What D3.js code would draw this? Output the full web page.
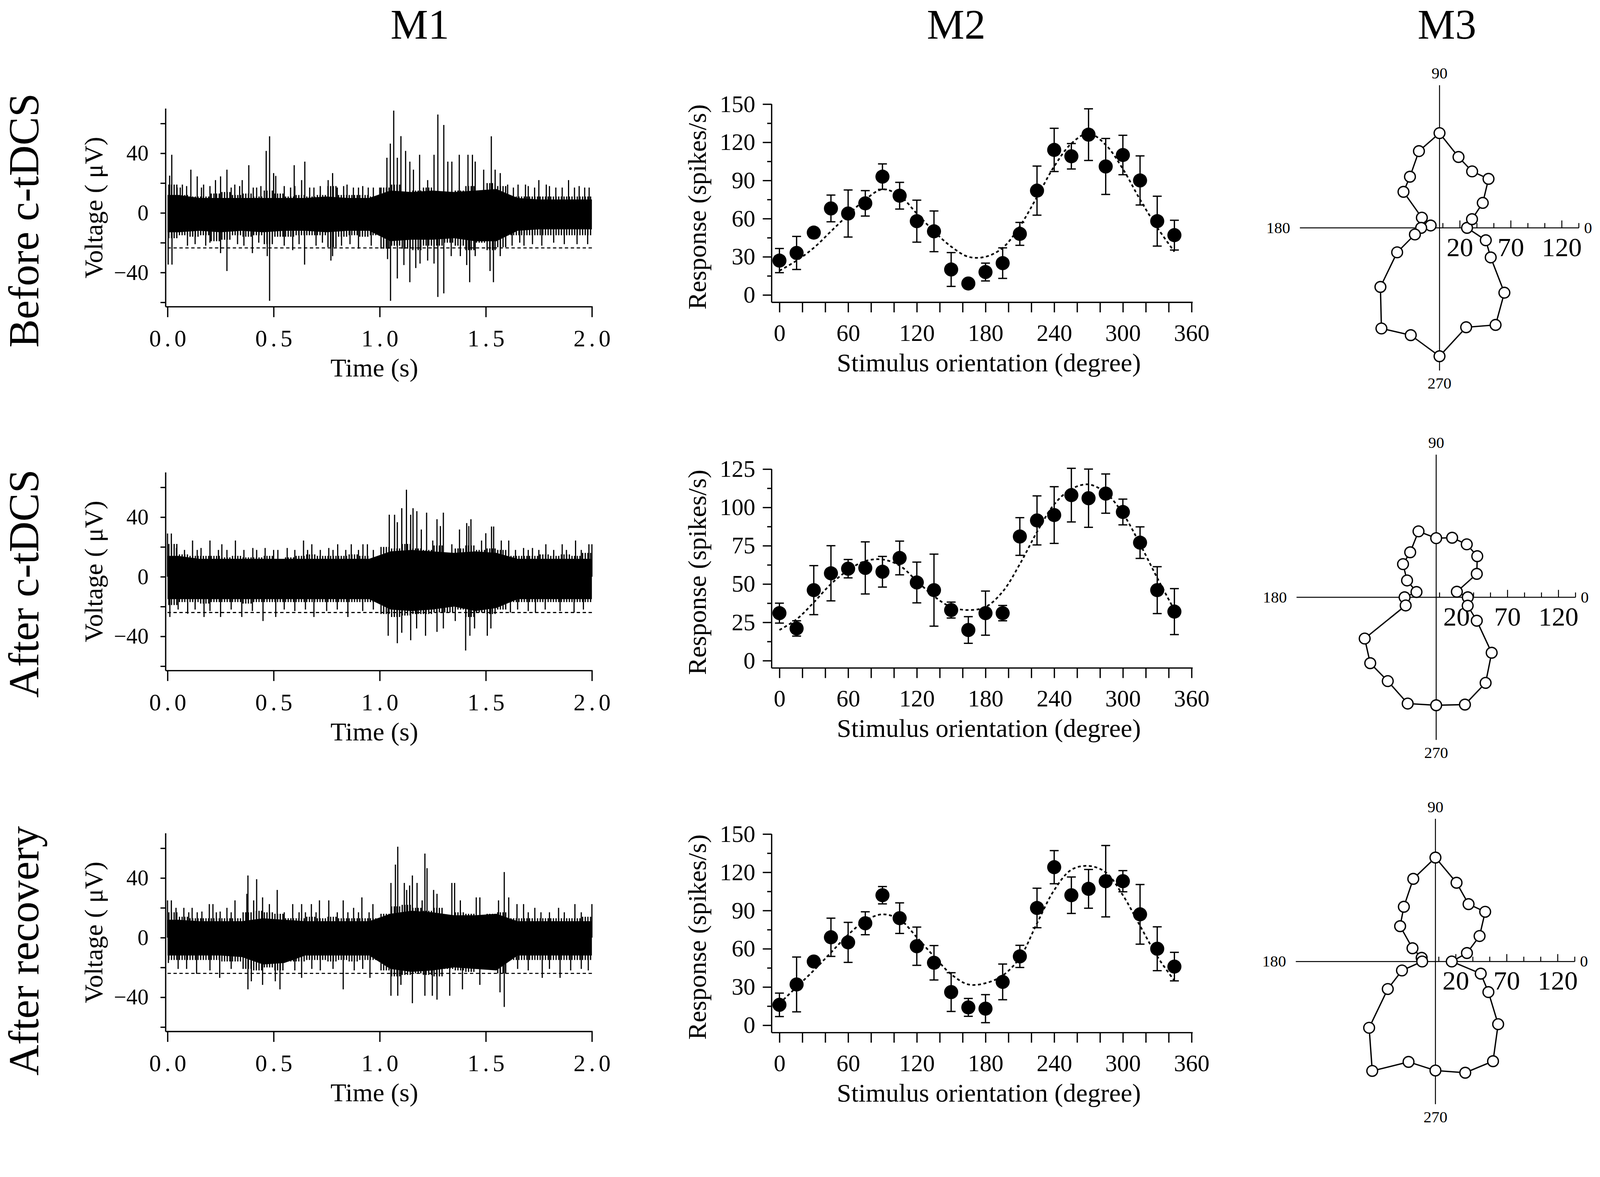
<!DOCTYPE html>
<html>
<head>
<meta charset="utf-8">
<script src="https://cdn.jsdelivr.net/npm/d3@7"></script>
<style>
  html, body { margin: 0; padding: 0; background: #fff; overflow: hidden; }
  svg { display: block; width: 100vw; height: 100vh; }
</style>
</head>
<body>
<div id="fig"></div>
<script>
// ---- titles ----
var columnTitles = ["M1", "M2", "M3"];
var rowTitles = ["Before c-tDCS", "After c-tDCS", "After recovery"];

// ---- M1: raw traces ----
// solid core of the trace, per 0.1 s bin
var coreHiBefore = [12, 10, 10, 10, 10, 10, 10, 11, 10, 10, 15, 14, 15, 14, 15, 16, 10, 9, 9, 9];
var coreLoBefore = [-13, -12, -13, -12, -13, -12, -12, -13, -12, -12, -19, -18, -18, -17, -19, -19, -12, -11, -11, -11];
var coreHiAfter = [14, 12, 12, 12, 12, 12, 12, 12, 12, 12, 17, 18, 17, 16, 17, 16, 12, 12, 12, 12];
var coreLoAfter = [-15, -15, -15, -15, -15, -15, -15, -15, -15, -15, -22, -23, -22, -20, -23, -21, -15, -15, -15, -15];
var coreHiRecovery = [12, 11, 11, 11, 13, 12, 11, 11, 11, 11, 16, 18, 17, 15, 15, 16, 11, 11, 11, 11];
var coreLoRecovery = [-12, -12, -12, -13, -18, -17, -12, -12, -12, -12, -21, -23, -22, -20, -21, -22, -12, -12, -12, -12];
// reach of the thin fringe around the core, per 0.05 s bin
var bandHiBefore = [19, 12, 11, 11, 13, 14, 12, 13, 11, 15, 13, 11, 12, 11, 12, 18, 12, 12, 12, 11, 17, 19, 14, 15, 17, 14, 14, 15, 18, 14, 20, 18, 11, 11, 11, 11, 11, 11, 11, 11];
var bandLoBefore = [-17, -15, -16, -15, -19, -18, -15, -16, -15, -21, -16, -16, -15, -15, -15, -23, -16, -15, -16, -15, -24, -22, -24, -25, -22, -22, -20, -22, -25, -20, -25, -23, -15, -15, -15, -15, -15, -15, -15, -15];
var bandHiAfter = [22, 15, 14, 14, 14, 13, 14, 13, 13, 14, 12, 13, 14, 15, 14, 14, 14, 15, 14, 12, 20, 19, 22, 19, 18, 21, 16, 19, 21, 18, 19, 18, 14, 14, 14, 15, 14, 15, 14, 16];
var bandLoAfter = [-19, -17, -17, -18, -17, -17, -17, -18, -17, -17, -17, -17, -17, -17, -17, -17, -17, -17, -17, -17, -25, -27, -26, -25, -25, -24, -24, -22, -27, -24, -25, -22, -17, -17, -17, -17, -17, -17, -17, -17];
var bandHiRecovery = [17, 14, 13, 13, 13, 13, 13, 17, 18, 17, 16, 13, 13, 14, 13, 14, 13, 13, 13, 13, 16, 21, 22, 20, 18, 20, 15, 17, 16, 15, 16, 17, 13, 13, 13, 13, 13, 13, 13, 14];
var bandLoRecovery = [-15, -15, -15, -15, -15, -16, -16, -21, -22, -20, -22, -16, -16, -15, -15, -16, -15, -16, -15, -15, -22, -26, -25, -24, -25, -26, -21, -22, -23, -21, -21, -24, -15, -15, -15, -15, -15, -15, -15, -15];

// [time (s), peak voltage (uV)]
var spikesBefore = [
  [0.01,25],[0.02,39],[0.045,17],[0.07,19],[0.11,29],[0.14,24.5],[0.17,19],[0.226,22],[0.25,24.5],[0.28,29],
  [0.317,19],[0.352,22],[0.383,32],[0.404,17],[0.465,41.6],[0.481,51.4],[0.5,26.7],[0.51,24.8],[0.597,32],[0.632,22],
  [0.647,34.4],[0.67,17],[0.757,22],[0.778,26.7],[0.846,19],[0.876,17],[0.946,17],[1.0,17],[1.034,37],[1.05,46.5],
  [1.066,68.6],[1.083,37],[1.1,51.5],[1.122,41.6],[1.142,34.4],[1.159,29],[1.188,39],[1.226,22],[1.256,39],[1.274,66],
  [1.302,59],[1.321,34.4],[1.34,34.4],[1.375,39],[1.416,39],[1.437,39],[1.45,34.4],[1.49,29],[1.526,51.4],[1.544,29],
  [1.568,26.7],[1.603,19],[1.652,19],[1.687,19],[1.75,22],[1.785,19],[1.89,22],[1.918,17],[1.966,17],[1.987,17],
  [0.06,17],[0.09,18],[0.16,17],[0.2,18],[0.3,17],[0.34,18],[0.42,17],[0.44,18],[0.55,18],[0.58,17],[0.6,18],[0.69,17],
  [0.72,18],[0.8,17],[0.83,18],[0.9,17],[0.92,18],[0.97,17],[1.63,17],[1.7,18],[1.73,17],[1.8,18],[1.83,17],[1.86,17],[1.94,18],
  [0.003,-34.7],[0.021,-34.7],[0.094,-22],[0.25,-27],[0.28,-39],[0.4,-27],[0.47,-29],[0.481,-59],[0.59,-25],[0.646,-34.7],
  [0.77,-32],[0.778,-29],[0.9,-24],[1.037,-31],[1.051,-59],[1.083,-44],[1.114,-35],[1.142,-46.5],[1.17,-37],[1.19,-34],
  [1.226,-32],[1.256,-34],[1.274,-56.4],[1.302,-54],[1.337,-29],[1.38,-29],[1.41,-35],[1.424,-46.5],[1.45,-29],[1.52,-39],
  [1.536,-46.5],[1.568,-29],[1.624,-22],[1.68,-22],[1.764,-22],[1.98,-21],
  [0.13,-21],[0.18,-22],[0.2,-20],[0.33,-21],[0.36,-22],[0.43,-20],[0.55,-22],[0.62,-21],[0.7,-22],[0.73,-20],[0.82,-22],
  [0.86,-21],[0.96,-22],[1.66,-20],[1.72,-21],[1.82,-20],[1.87,-21],[1.93,-21]
];
var spikesAfter = [
  [0,29],[0.018,29],[0.042,19.3],[0.118,24.3],[0.158,19.3],[0.2,24.3],[0.256,21.8],[0.32,24.3],[0.402,19.3],[0.46,19.3],
  [0.564,19.3],[0.641,24.3],[0.68,21.8],[0.76,19.3],[0.802,21.8],[0.866,21.8],[0.921,21.8],[0.942,21.8],[1.045,41.6],[1.07,41.6],
  [1.083,36.6],[1.104,46],[1.126,58.4],[1.146,41.6],[1.157,46],[1.175,44],[1.196,31.7],[1.221,43],[1.25,24.3],[1.27,38.6],
  [1.286,34],[1.3,43],[1.34,21.8],[1.376,31.7],[1.41,36],[1.42,34],[1.43,38.6],[1.48,24.3],[1.5,29.2],[1.527,33.7],
  [1.537,33.7],[1.573,24.3],[1.608,24.3],[1.678,19.3],[1.72,19.3],[1.783,21.8],[1.86,21.8],[1.923,24.3],[1.986,21.8],[2.0,21.8],
  [0.08,18],[0.14,18],[0.24,18],[0.28,18],[0.36,18],[0.42,18],[0.5,18],[0.52,18],[0.6,18],[0.66,18],[0.72,18],[0.78,18],
  [0.84,18],[0.9,18],[0.97,18],[1.64,18],[1.7,18],[1.75,18],[1.82,18],[1.88,18],[1.95,18],
  [0.011,-27],[0.095,-24.8],[0.172,-27],[0.25,-27],[0.35,-27],[0.45,-29.7],[0.51,-27],[0.69,-27],[0.85,-27],[1.04,-39.6],
  [1.083,-44.6],[1.104,-37.6],[1.146,-42.6],[1.174,-34.7],[1.216,-39.6],[1.27,-37],[1.3,-34.7],[1.356,-29.7],[1.405,-49.5],[1.425,-39.6],
  [1.447,-34.7],[1.507,-39.6],[1.524,-34.7],[1.616,-24],[1.734,-24],[1.916,-24],
  [0.05,-22],[0.13,-22],[0.2,-23],[0.3,-22],[0.4,-23],[0.55,-22],[0.6,-23],[0.65,-22],[0.75,-23],[0.8,-22],[0.92,-23],
  [0.97,-22],[1.65,-22],[1.7,-23],[1.78,-22],[1.85,-23],[1.96,-22]
];
var spikesRecovery = [
  [0,25],[0.018,25],[0.04,20],[0.077,20],[0.116,20],[0.162,17.5],[0.197,22.5],[0.214,22.5],[0.248,17.5],[0.28,20],
  [0.318,25],[0.374,29.4],[0.379,41.7],[0.406,25],[0.42,39.2],[0.448,27],[0.48,22.5],[0.517,32],[0.59,22.5],[0.632,22.5],
  [0.678,22.5],[0.716,25],[0.76,25],[0.828,25],[0.877,20],[0.916,27],[0.968,22.5],[1.053,36.7],[1.074,49],[1.085,61],
  [1.116,36.7],[1.127,32],[1.141,35],[1.154,41.7],[1.176,36.7],[1.2,25],[1.213,56.4],[1.223,46.6],[1.254,32],[1.27,29.4],
  [1.34,36.7],[1.353,36.7],[1.38,25],[1.455,27],[1.472,27],[1.56,25],[1.587,44],[1.608,27],[1.647,22.5],[1.678,22.5],
  [1.731,20],[1.843,20],[1.92,22.5],[2.0,22.5],
  [0.1,17],[0.14,17],[0.23,17],[0.3,17],[0.55,17],[0.62,17],[0.65,17],[0.7,17],[0.8,17],[0.85,17],[0.9,17],[0.95,17],
  [1.7,17],[1.76,17],[1.8,17],[1.87,17],[1.95,17],
  [0.004,-17],[0.137,-24.3],[0.246,-27],[0.379,-34.7],[0.395,-29.3],[0.448,-31.7],[0.508,-29.3],[0.53,-34.7],[0.632,-27],[0.828,-34.7],
  [0.954,-27],[1.053,-39],[1.085,-39],[1.1,-31.7],[1.154,-44],[1.213,-39],[1.248,-39],[1.27,-41.6],[1.33,-39],[1.39,-34.7],
  [1.472,-31.7],[1.567,-36.7],[1.587,-46.5],[1.766,-27],[1.85,-27],[1.983,-22],
  [0.05,-21],[0.09,-21],[0.2,-22],[0.3,-21],[0.6,-22],[0.68,-21],[0.72,-22],[0.78,-21],[0.88,-22],[0.92,-21],[1.65,-21],
  [1.7,-22],[1.8,-21],[1.9,-22],[1.95,-21]
];
var thresholds = [-23.5, -24, -24];
var timeTicks = [0, 0.5, 1, 1.5, 2];
var voltTicks = [-60, -40, -20, 0, 20, 40, 60];

// ---- M2: orientation tuning (mean, error, fitted curve) ----
var orientations = [0, 15, 30, 45, 60, 75, 90, 105, 120, 135, 150, 165, 180, 195, 210, 225, 240, 255, 270, 285, 300, 315, 330, 345];
var respBefore = [27, 33, 49, 68, 64, 72, 93, 78, 58, 50, 20, 9, 18, 25, 48, 82, 114, 109, 126, 101, 110, 90, 58, 47];
var errBefore = [9.5, 13, 4, 10.5, 18.5, 10, 10, 10.5, 16.5, 16, 13.3, 2, 7, 12, 9, 19.3, 17, 10, 20.3, 22, 15.5, 19.3, 19.6, 11.7];
var fitBefore = [19, 27, 37, 50, 63, 75, 83, 78, 64, 50, 38, 30, 30, 37, 54, 77, 101, 119, 127, 118, 99, 75, 53, 34];
var respAfter = [31, 21, 46, 57, 60, 60.5, 58, 67, 51, 46, 33, 20, 31, 31, 81, 91.5, 95, 108, 106, 109, 97, 77, 46, 32];
var errAfter = [6.5, 5, 16, 18, 6, 17, 10, 11, 13.3, 23.5, 5.2, 8.7, 14.4, 5, 12.3, 16, 18.5, 17.5, 19, 12.8, 8.4, 10.3, 15.3, 15];
var fitAfter = [20, 27, 38, 50, 59, 65, 66, 62, 52, 42, 35, 33, 35, 45, 63, 84, 102, 112, 115, 109.5, 96, 76, 54, 33];
var respRecovery = [16, 32, 50, 69, 65, 80, 102, 84, 62, 49, 26, 14, 13, 34, 54, 92, 124, 102, 107, 113, 113, 87, 60, 46];
var errRecovery = [9.2, 21.5, 3, 15, 15.7, 9, 6.8, 12, 15, 13.5, 15.2, 7, 11, 14, 8.7, 15.5, 13, 14.3, 15.2, 28, 8.3, 23.4, 17.2, 11.2];
var fitRecovery = [17, 30, 43, 57, 71, 82, 87, 83, 69, 54, 40, 32, 33, 39, 53, 80, 106, 122, 125, 120, 102, 78, 54, 35];
var respMax = [150, 125, 150];
var respStep = [30, 25, 30];

// ---- M3: polar axis ticks ----
var polarTicks = [3.3, 20, 36.7, 53.3, 70, 86.7, 103.3, 120, 136.7];
var polarLabels = [20, 70, 120];
var angleLabels = ["0", "90", "180", "270"];

// ---- layout ----
var W = 4317, H = 3014;
var FONT = '"Liberation Serif", "Times New Roman", serif';
var titleX = [1133, 2580, 3904];
var rowLabelY = [595, 1575, 2566];
var m1AxisY = [828, 1810, 2784];
var m2AxisY = [816, 1803, 2787];
var m2ZeroY = [796, 1783, 2767];
var m2TopY = [281, 1266, 2251];
var polarCx = [3884, 3875, 3873];
var polarCy = [615, 1612, 2595];

var svg = d3.select("#fig").append("svg")
  .attr("viewBox", "0 0 " + W + " " + H)
  .attr("preserveAspectRatio", "xMinYMin meet")
  .style("font-family", FONT);
svg.append("rect").attr("width", W).attr("height", H).attr("fill", "#fff");

svg.selectAll("text.coltitle").data(columnTitles).enter().append("text")
  .attr("class", "coltitle")
  .attr("x", (d, i) => titleX[i]).attr("y", 104)
  .attr("text-anchor", "middle").attr("font-size", 114)
  .text(d => d);

svg.selectAll("text.rowtitle").data(rowTitles).enter().append("text")
  .attr("class", "rowtitle")
  .attr("transform", (d, i) => "translate(103," + rowLabelY[i] + ") rotate(-90)")
  .attr("text-anchor", "middle").attr("font-size", 115)
  .text(d => d);

function fixAxis(g, size) {
  g.attr("font-family", FONT).attr("font-size", size);
  g.select(".domain").remove();
  g.selectAll(".tick line").attr("stroke", "#000").attr("stroke-width", 3.5);
}

// ---------- M1 ----------
var traces = [
  { coreHi: coreHiBefore, coreLo: coreLoBefore, hi: bandHiBefore, lo: bandLoBefore, spikes: spikesBefore },
  { coreHi: coreHiAfter, coreLo: coreLoAfter, hi: bandHiAfter, lo: bandLoAfter, spikes: spikesAfter },
  { coreHi: coreHiRecovery, coreLo: coreLoRecovery, hi: bandHiRecovery, lo: bandLoRecovery, spikes: spikesRecovery }
];

traces.forEach(function(tr, row) {
  var base = m1AxisY[row];
  var x = d3.scaleLinear().domain([0, 2]).range([452, 1597]);
  var y = d3.scaleLinear().domain([-63, 70]).range([base, base - 535]);
  var g = svg.append("g");

  // fringe: thin strokes in each 0.05 s bin, reaching the bin's read-off extent
  var binW = 2 / tr.hi.length;
  var fringe = [];
  tr.hi.forEach(function(h, i) {
    [0.125, 0.375, 0.625, 0.875].forEach(function(f) {
      fringe.push({ t: (i + f) * binW, hi: h, lo: tr.lo[i] });
    });
  });
  g.selectAll("line.fr").data(fringe).enter().append("line").attr("class", "fr")
    .attr("x1", d => x(d.t)).attr("x2", d => x(d.t))
    .attr("y1", d => y(d.lo)).attr("y2", d => y(d.hi))
    .attr("stroke", "#000").attr("stroke-width", 3.4);

  // solid core, one vertex per 0.1 s bin centre
  var cw = 2 / tr.coreHi.length;
  var core = tr.coreHi.map((h, i) => ({ t: (i + 0.5) * cw, hi: h, lo: tr.coreLo[i] }));
  core.unshift({ t: 0, hi: tr.coreHi[0], lo: tr.coreLo[0] });
  core.push({ t: 2, hi: tr.coreHi[tr.coreHi.length - 1], lo: tr.coreLo[tr.coreLo.length - 1] });
  var area = d3.area().x(d => x(d.t)).y0(d => y(d.lo)).y1(d => y(d.hi));
  g.append("path").datum(core).attr("d", area).attr("fill", "#000");

  g.selectAll("line.spike").data(tr.spikes).enter().append("line")
    .attr("class", "spike")
    .attr("x1", d => x(d[0])).attr("x2", d => x(d[0]))
    .attr("y1", y(0)).attr("y2", d => y(d[1]))
    .attr("stroke", "#000").attr("stroke-width", 3.2);

  g.append("line")
    .attr("x1", x(0)).attr("x2", x(2))
    .attr("y1", y(thresholds[row])).attr("y2", y(thresholds[row]))
    .attr("stroke", "#000").attr("stroke-width", 3).attr("stroke-dasharray", "9,7");

  // axes
  g.append("line").attr("x1", 447).attr("x2", 447).attr("y1", y(70)).attr("y2", base)
    .attr("stroke", "#000").attr("stroke-width", 3.5);
  g.append("line").attr("x1", 447).attr("x2", 1599).attr("y1", base).attr("y2", base)
    .attr("stroke", "#000").attr("stroke-width", 3.5);

  var xa = g.append("g").attr("transform", "translate(0," + base + ")")
    .call(d3.axisBottom(x).tickValues(timeTicks).tickSize(28).tickFormat(d3.format(".1f")));
  fixAxis(xa, 64);
  xa.selectAll(".tick text").attr("y", 107).attr("dy", 0).attr("dx", 5).attr("letter-spacing", 10);

  var ya = g.append("g").attr("transform", "translate(447,0)")
    .call(d3.axisLeft(y).tickValues(voltTicks).tickSize(14)
      .tickFormat(d => d % 40 === 0 ? d3.format("")(d) : ""));
  fixAxis(ya, 60);
  ya.selectAll(".tick text").attr("x", -46);

  g.append("text").attr("transform", "translate(1010," + (base + 188) + ")")
    .attr("text-anchor", "middle").attr("font-size", 70).text("Time (s)");
  g.append("text").attr("transform", "translate(276," + ((y(70) + base) / 2) + ") rotate(-90)")
    .attr("text-anchor", "middle").attr("font-size", 70).text("Voltage ( \u03bcV)");
});

// ---------- M2 ----------
var tunings = [
  { resp: respBefore, err: errBefore, fit: fitBefore },
  { resp: respAfter, err: errAfter, fit: fitAfter },
  { resp: respRecovery, err: errRecovery, fit: fitRecovery }
];

tunings.forEach(function(tu, row) {
  var base = m2AxisY[row];
  var x = d3.scaleLinear().domain([0, 360]).range([2103, 3215]);
  var y = d3.scaleLinear().domain([0, respMax[row]]).range([m2ZeroY[row], m2TopY[row]]);
  var g = svg.append("g");

  var fitLine = d3.line().x((d, i) => x(orientations[i])).y(d => y(d)).curve(d3.curveCatmullRom);
  g.append("path").datum(tu.fit).attr("d", fitLine)
    .attr("fill", "none").attr("stroke", "#000").attr("stroke-width", 4.5).attr("stroke-dasharray", "8,7");

  var pts = orientations.map((o, i) => ({ o: o, v: tu.resp[i], e: tu.err[i] }));
  var eb = g.selectAll("g.eb").data(pts).enter().append("g").attr("class", "eb");
  eb.append("line").attr("x1", d => x(d.o)).attr("x2", d => x(d.o))
    .attr("y1", d => y(d.v - d.e)).attr("y2", d => y(d.v + d.e))
    .attr("stroke", "#000").attr("stroke-width", 3.5);
  eb.append("line").attr("x1", d => x(d.o) - 12).attr("x2", d => x(d.o) + 12)
    .attr("y1", d => y(d.v + d.e)).attr("y2", d => y(d.v + d.e))
    .attr("stroke", "#000").attr("stroke-width", 3.5);
  eb.append("line").attr("x1", d => x(d.o) - 12).attr("x2", d => x(d.o) + 12)
    .attr("y1", d => y(d.v - d.e)).attr("y2", d => y(d.v - d.e))
    .attr("stroke", "#000").attr("stroke-width", 3.5);
  g.selectAll("circle.pt").data(pts).enter().append("circle").attr("class", "pt")
    .attr("cx", d => x(d.o)).attr("cy", d => y(d.v)).attr("r", 19).attr("fill", "#000");

  g.append("line").attr("x1", 2082).attr("x2", 2082).attr("y1", y(respMax[row])).attr("y2", base)
    .attr("stroke", "#000").attr("stroke-width", 3.5);
  g.append("line").attr("x1", 2082).attr("x2", 3218).attr("y1", base).attr("y2", base)
    .attr("stroke", "#000").attr("stroke-width", 3.5);

  var xa = g.append("g").attr("transform", "translate(0," + base + ")")
    .call(d3.axisBottom(x).tickValues(d3.range(0, 361, 20)).tickSize(27)
      .tickFormat(d => d % 60 === 0 ? d : ""));
  fixAxis(xa, 64);
  xa.selectAll(".tick text").attr("y", 104).attr("dy", 0);

  var yMinor = g.append("g").attr("transform", "translate(2082,0)")
    .call(d3.axisLeft(y).tickValues(d3.range(respStep[row] / 2, respMax[row], respStep[row])).tickSize(12).tickFormat(""));
  fixAxis(yMinor, 64);
  var ya = g.append("g").attr("transform", "translate(2082,0)")
    .call(d3.axisLeft(y).tickValues(d3.range(0, respMax[row] + 1, respStep[row])).tickSize(24));
  fixAxis(ya, 64);
  ya.selectAll(".tick text").attr("x", -44);

  g.append("text").attr("transform", "translate(2668," + (base + 186) + ")")
    .attr("text-anchor", "middle").attr("font-size", 70).text("Stimulus orientation (degree)");
  g.append("text").attr("transform", "translate(1905," + ((y(respMax[row]) + base) / 2 + 10) + ") rotate(-90)")
    .attr("text-anchor", "middle").attr("font-size", 70).text("Response (spikes/s)");
});

// ---------- M3 ----------
tunings.forEach(function(tu, row) {
  var cx = polarCx[row], cy = polarCy[row];
  var r = d3.scaleLinear().domain([0, 140]).range([0, 385]);
  var g = svg.append("g").attr("transform", "translate(" + cx + "," + cy + ")");

  g.append("line").attr("x1", -r(137)).attr("x2", r(136.7)).attr("y1", 0).attr("y2", 0)
    .attr("stroke", "#000").attr("stroke-width", 2.6);
  g.append("line").attr("x1", 0).attr("x2", 0).attr("y1", -r(140)).attr("y2", r(140))
    .attr("stroke", "#000").attr("stroke-width", 2.6);

  g.selectAll("line.rt").data(polarTicks).enter().append("line").attr("class", "rt")
    .attr("x1", d => r(d)).attr("x2", d => r(d)).attr("y1", 0)
    .attr("y2", d => polarLabels.indexOf(Math.round(d)) >= 0 ? -20 : -13)
    .attr("stroke", "#000").attr("stroke-width", 2.6);
  g.selectAll("text.rl").data(polarLabels).enter().append("text").attr("class", "rl")
    .attr("x", d => r(d)).attr("y", 76).attr("text-anchor", "middle").attr("font-size", 72)
    .text(d => d);

  g.append("text").attr("x", 0).attr("y", -403).attr("text-anchor", "middle").attr("font-size", 43).text(angleLabels[1]);
  g.append("text").attr("x", 0).attr("y", 434).attr("text-anchor", "middle").attr("font-size", 43).text(angleLabels[3]);
  g.append("text").attr("x", -403).attr("y", 14).attr("text-anchor", "end").attr("font-size", 43).text(angleLabels[2]);
  g.append("text").attr("x", 390).attr("y", 14).attr("text-anchor", "start").attr("font-size", 43).text(angleLabels[0]);

  var pts = orientations.map((o, i) => ({ a: (90 - o) * Math.PI / 180, v: tu.resp[i] }));
  var radial = d3.lineRadial().angle(d => d.a).radius(d => r(d.v)).curve(d3.curveLinearClosed);
  g.append("path").datum(pts).attr("d", radial)
    .attr("fill", "none").attr("stroke", "#000").attr("stroke-width", 3.6);
  g.selectAll("circle.pp").data(pts).enter().append("circle").attr("class", "pp")
    .attr("cx", d => d3.pointRadial(d.a, r(d.v))[0])
    .attr("cy", d => d3.pointRadial(d.a, r(d.v))[1])
    .attr("r", 14.5).attr("fill", "#fff").attr("stroke", "#000").attr("stroke-width", 3.6);
});
</script>
</body>
</html>
